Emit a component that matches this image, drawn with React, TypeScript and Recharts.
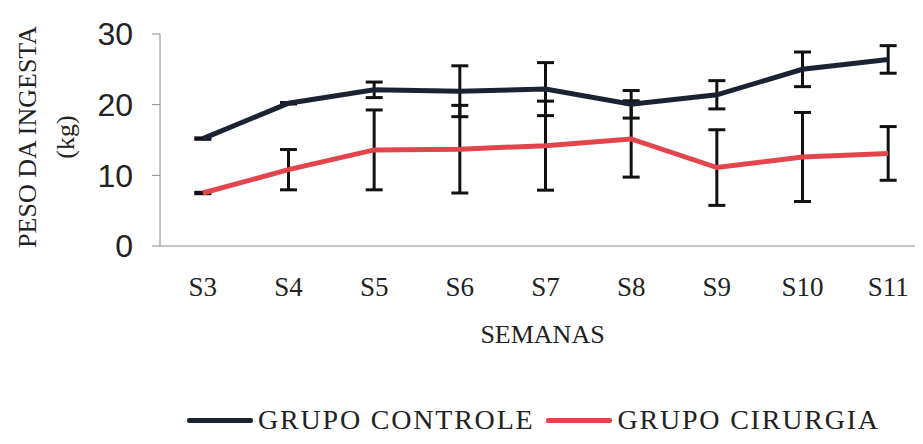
import React from 'react';
import { LineChart, Line, XAxis, YAxis, ErrorBar } from 'recharts';

const weeks = ['S3', 'S4', 'S5', 'S6', 'S7', 'S8', 'S9', 'S10', 'S11'];
const controle = [15.2, 20.2, 22.1, 21.9, 22.2, 20.05, 21.4, 25.0, 26.4];
const controleErr = [0.1, 0.1, 1.1, 3.6, 3.75, 1.95, 2.0, 2.45, 1.95];
const cirurgia = [7.5, 10.8, 13.6, 13.7, 14.2, 15.15, 11.1, 12.6, 13.1];
const cirurgiaErr = [0.1, 2.85, 5.65, 6.2, 6.3, 5.4, 5.35, 6.3, 3.8];
const yTicks = [0, 10, 20, 30];
const boundaryTicks = [0, 1, 2, 3, 4, 5, 6, 7, 8, 9];

const seriesNames = ['GRUPO CONTROLE', 'GRUPO CIRURGIA'];
const colors = ['#1b2333', '#e4454d'];

const data = weeks.map((w, i) => ({
  week: w,
  controle: controle[i],
  controleErr: controleErr[i],
  cirurgia: cirurgia[i],
  cirurgiaErr: cirurgiaErr[i],
}));

const SERIF = '"Liberation Serif", "Times New Roman", serif';
const SANS = '"Liberation Sans", Arial, sans-serif';

const YLabel = (props: any) => {
  const vb = props.viewBox || {};
  const cy = vb.y + vb.height / 2 - 3;
  return (
    <g fontFamily={SERIF} fontSize={26} fill="#222">
      <text x={19} y={cy} transform={`rotate(-90, 19, ${cy})`} textAnchor="middle" dominantBaseline="central">
        PESO DA INGESTA
      </text>
      <text x={57} y={cy} transform={`rotate(-90, 57, ${cy})`} textAnchor="middle" dominantBaseline="central">
        (kg)
      </text>
    </g>
  );
};

const XLabel = (props: any) => {
  const vb = props.viewBox || {};
  return (
    <text x={vb.x + vb.width / 2 - 3} y={vb.y + 81} textAnchor="middle" dominantBaseline="central" fontFamily={SERIF} fontSize={26} fill="#222">
      SEMANAS
    </text>
  );
};

export default function App() {
  return (
    <div style={{ position: 'relative', width: 915, height: 428, overflow: 'hidden' }}>
      <LineChart width={923} height={426} data={data} margin={{ top: 26, right: 0, bottom: 28, left: 0 }}>
        <XAxis
          xAxisId="bounds"
          type="number"
          domain={[0, 9]}
          ticks={boundaryTicks}
          tick={false}
          tickSize={7}
          height={7}
          axisLine={{ stroke: '#8a8a8a' }}
          tickLine={{ stroke: '#8a8a8a' }}
          allowDataOverflow
        />
        <XAxis
          xAxisId="cat"
          dataKey="week"
          scale="band"
          axisLine={false}
          tickLine={false}
          tickSize={0}
          tickMargin={24}
          height={153}
          interval={0}
          tick={{ fontFamily: SERIF, fontSize: 27, fill: '#222' }}
          label={<XLabel />}
        />
        <YAxis
          domain={[0, 30]}
          ticks={yTicks}
          width={152}
          tickSize={8}
          tickMargin={19}
          axisLine={{ stroke: '#8a8a8a' }}
          tickLine={{ stroke: '#8a8a8a' }}
          tick={{ fontFamily: SANS, fontSize: 32, fill: '#222' }}
          label={<YLabel />}
        />
        <Line xAxisId="cat" dataKey="cirurgia" name={seriesNames[1]} stroke={colors[1]} strokeWidth={5} dot={false} isAnimationActive={false}>
          <ErrorBar dataKey="cirurgiaErr" width={8.5} strokeWidth={3} stroke="#111" isAnimationActive={false} />
        </Line>
        <Line xAxisId="cat" dataKey="controle" name={seriesNames[0]} stroke={colors[0]} strokeWidth={5} dot={false} isAnimationActive={false}>
          <ErrorBar dataKey="controleErr" width={8.5} strokeWidth={3} stroke="#111" isAnimationActive={false} />
        </Line>
      </LineChart>
      <div
        style={{
          position: 'absolute',
          top: 398,
          left: 179,
          display: 'flex',
          alignItems: 'center',
          fontFamily: SERIF,
          fontSize: 28,
          lineHeight: '28px',
          letterSpacing: 1.8,
          color: '#222',
          whiteSpace: 'nowrap',
        }}
      >
        {seriesNames.map((n, i) => (
          <div key={n} style={{ display: 'flex', alignItems: 'center', marginRight: 12 }}>
            <div style={{ width: 66, height: 5, borderRadius: 2, background: colors[i], marginRight: 5 }} />
            <span>{n}</span>
          </div>
        ))}
      </div>
    </div>
  );
}
